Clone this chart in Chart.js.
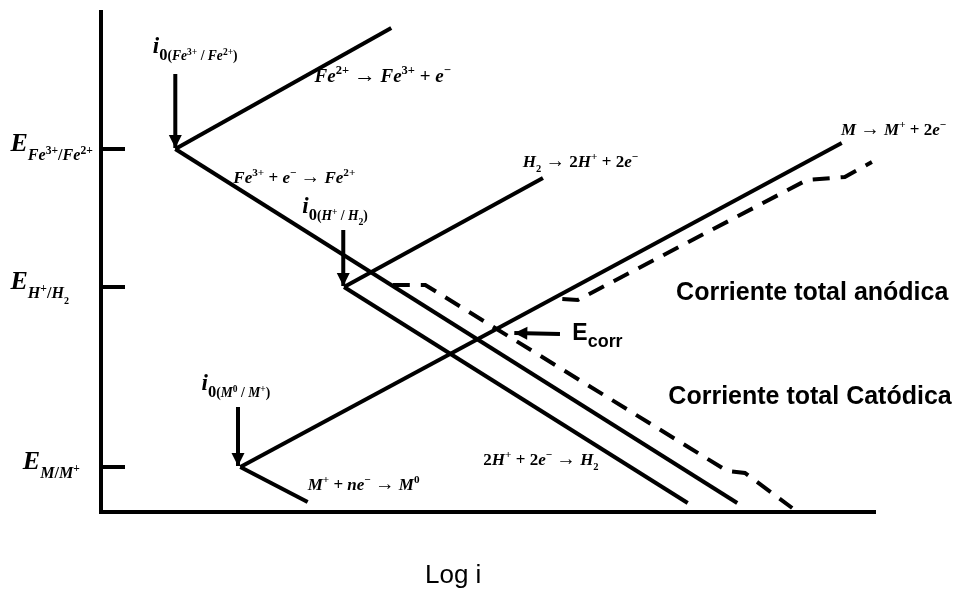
<!DOCTYPE html>
<html>
<head>
<meta charset="utf-8">
<script src="https://cdn.jsdelivr.net/npm/chart.js"></script>
<style>
  html, body { margin: 0; padding: 0; background: #fff; }
  #wrap { width: 958px; height: 589px; }
</style>
</head>
<body>
<div id="wrap"><canvas id="chart"></canvas></div>
<script>
// equilibrium potentials on the E axis and their labels
const eLevels = [72.6, 45.0, 9.0];
const eLabels = ['E_{Fe^{3+}/Fe^{2+}}', 'E_{H^{+}/H_{2}}', 'E_{M/M^{+}}'];

// Tafel lines, points are [log i, E]
const feAnodic = [[9.6, 72.6], [37.5, 96.8]];
const feCathodic = [[9.6, 72.6], [82.2, 1.8]];
const hAnodic = [[31.4, 45.0], [57.1, 66.8]];
const hCathodic = [[31.4, 45.0], [75.8, 1.8]];
const mAnodic = [[18.0, 9.0], [95.7, 73.8]];
const mCathodic = [[18.0, 9.0], [26.7, 2.0]];

// total currents (dashed)
const totalCathodic = [[37.7, 45.4], [41.9, 45.4], [80.9, 8.2], [83.2, 7.8], [89.3, 0.8]];
const totalAnodic = [[59.6, 42.6], [61.6, 42.4], [91.2, 66.4], [96.1, 67.0], [99.6, 70.0]];

// exchange current pointers and the E_corr pointer
const i0FeArrow = [[9.6, 87.6], [9.6, 72.8]];
const i0HArrow = [[31.3, 56.4], [31.3, 45.2]];
const i0MArrow = [[17.7, 21.0], [17.7, 9.2]];
const eCorrArrow = [[59.3, 35.6], [53.4, 35.8]];

const toXY = arr => arr.map(p => ({ x: p[0], y: p[1] }));

function line(data, extra) {
  return Object.assign({
    data: toXY(data),
    showLine: true,
    borderColor: '#000',
    borderWidth: 4,
    pointRadius: 0,
    pointHoverRadius: 0,
    tension: 0
  }, extra || {});
}

const datasets = [
  line(feAnodic), line(feCathodic),
  line(hAnodic), line(hCathodic),
  line(mAnodic), line(mCathodic),
  line(totalCathodic, { borderDash: [17, 11] }),
  line(totalAnodic, { borderDash: [17, 11] }),
  line(i0FeArrow, { arrow: true }),
  line(i0HArrow, { arrow: true }),
  line(i0MArrow, { arrow: true }),
  line(eCorrArrow, { arrow: true })
];
// short tick marks on the E axis
eLevels.forEach(e => datasets.push(line([[0, e], [3.1, e]])));

// draws text with ^{..} superscripts, _{..} subscripts, ~{..} smaller text
function richText(ctx, src, x, y, size, opt) {
  const subScale = opt.subScale || 0.62;
  const supScale = opt.supScale || 0.66;
  function run(str, x, y, size) {
    let k = 0;
    while (k < str.length) {
      const c = str[k];
      if ((c === '^' || c === '_' || c === '~') && str[k + 1] === '{') {
        let depth = 0, j = k + 1;
        for (; j < str.length; j++) {
          if (str[j] === '{') depth++;
          else if (str[j] === '}' && --depth === 0) break;
        }
        const inner = str.slice(k + 2, j);
        const s = c === '~' ? size * 0.82 : size * (c === '_' ? subScale : supScale);
        const dy = c === '^' ? -size * 0.4 : c === '_' ? size * (opt.subShift || 0.32) : 0;
        x = run(inner, x, y + dy, s);
        k = j + 1;
      } else {
        const it = opt.italic && /[A-Za-z]/.test(c);
        const arrow = c === '→';
        ctx.font = (it ? 'italic ' : '') + (opt.weight || 'normal') + ' ' + (arrow ? size * 1.15 : size) + 'px ' + opt.family;
        ctx.fillText(c, x, y);
        x += ctx.measureText(c).width;
        k++;
      }
    }
    return x;
  }
  return run(src, x, y, size);
}

const SERIF = '"Liberation Serif", "DejaVu Serif", serif';
const SANS = '"Liberation Sans", Arial, sans-serif';
const serifB = { family: SERIF, weight: 'bold', italic: true };
const i0Style = Object.assign({ subScale: 0.72, supScale: 0.7 }, serifB);

// annotations anchored in data units: [text, x, y, size, style]
const notes = [
  ['i_{0~{(Fe^{3+} / Fe^{2+})}}', 6.7, 91.8, 23, i0Style],
  ['i_{0~{(H^{+} / H_{2})}}', 26.0, 59.8, 23, i0Style],
  ['i_{0~{(M^{0} / M^{+})}}', 13.0, 24.4, 23, i0Style],
  ['Fe^{2+} → Fe^{3+} + e^{−}', 27.6, 86.0, 19, serifB],
  ['Fe^{3+} + e^{−} → Fe^{2+}', 17.1, 65.8, 17, serifB],
  ['H_{2} → 2H^{+} + 2e^{−}', 54.5, 69.0, 17, serifB],
  ['M → M^{+} + 2e^{−}', 95.6, 75.4, 17, serifB],
  ['2H^{+} + 2e^{−} → H_{2}', 49.4, 9.4, 17, serifB],
  ['M^{+} + ne^{−} → M^{0}', 26.7, 4.4, 17, serifB],
  ['Corriente total anódica', 74.3, 42.4, 25, { family: SANS, weight: 'bold' }],
  ['Corriente total Catódica', 73.3, 21.6, 25, { family: SANS, weight: 'bold' }],
  ['E_{corr}', 60.9, 34.4, 23, { family: SANS, weight: 'bold', subScale: 0.78, subShift: 0.3 }]
];
const eLabelX = [-11.7, -11.7, -10.1];

const decorations = {
  id: 'decorations',
  afterDatasetsDraw(chart) {
    const ctx = chart.ctx;
    const xs = chart.scales.x, ys = chart.scales.y;
    ctx.save();
    ctx.fillStyle = '#000';
    // arrow heads
    chart.data.datasets.forEach((ds, i) => {
      if (!ds.arrow) return;
      const pts = chart.getDatasetMeta(i).data;
      const a = pts[pts.length - 2], b = pts[pts.length - 1];
      const ang = Math.atan2(b.y - a.y, b.x - a.x);
      const len = 13, half = 6.5;
      ctx.save();
      ctx.translate(b.x, b.y);
      ctx.rotate(ang);
      ctx.beginPath();
      ctx.moveTo(0, 0);
      ctx.lineTo(-len, -half);
      ctx.lineTo(-len, half);
      ctx.closePath();
      ctx.fill();
      ctx.restore();
    });
    ctx.textBaseline = 'alphabetic';
    ctx.textAlign = 'left';
    // E axis labels
    eLevels.forEach((e, i) => {
      richText(ctx, eLabels[i], xs.getPixelForValue(eLabelX[i]), ys.getPixelForValue(e) + 2, 26,
        { family: SERIF, italic: true, weight: 'bold', subScale: 0.62, supScale: 0.72, subShift: 0.36 });
    });
    notes.forEach(n => {
      richText(ctx, n[0], xs.getPixelForValue(n[1]), ys.getPixelForValue(n[2]), n[3], n[4]);
    });
    // x axis title
    ctx.font = '26px ' + SANS;
    ctx.textAlign = 'center';
    ctx.fillText('Log i', xs.getPixelForValue(45.5), ys.getPixelForValue(-14.2));
    ctx.restore();
  }
};

const axis = {
  type: 'linear',
  min: 0,
  max: 100,
  grid: { display: false, drawTicks: false },
  ticks: { display: false },
  border: { display: true, color: '#000', width: 4 }
};

new Chart(document.getElementById('chart'), {
  type: 'scatter',
  data: { datasets: datasets },
  options: {
    responsive: true,
    maintainAspectRatio: false,
    animation: false,
    events: [],
    layout: { padding: { left: 101, top: 12, right: 83, bottom: 77 } },
    scales: { x: axis, y: axis },
    plugins: { legend: { display: false }, tooltip: { enabled: false } }
  },
  plugins: [decorations]
});
</script>
</body>
</html>
